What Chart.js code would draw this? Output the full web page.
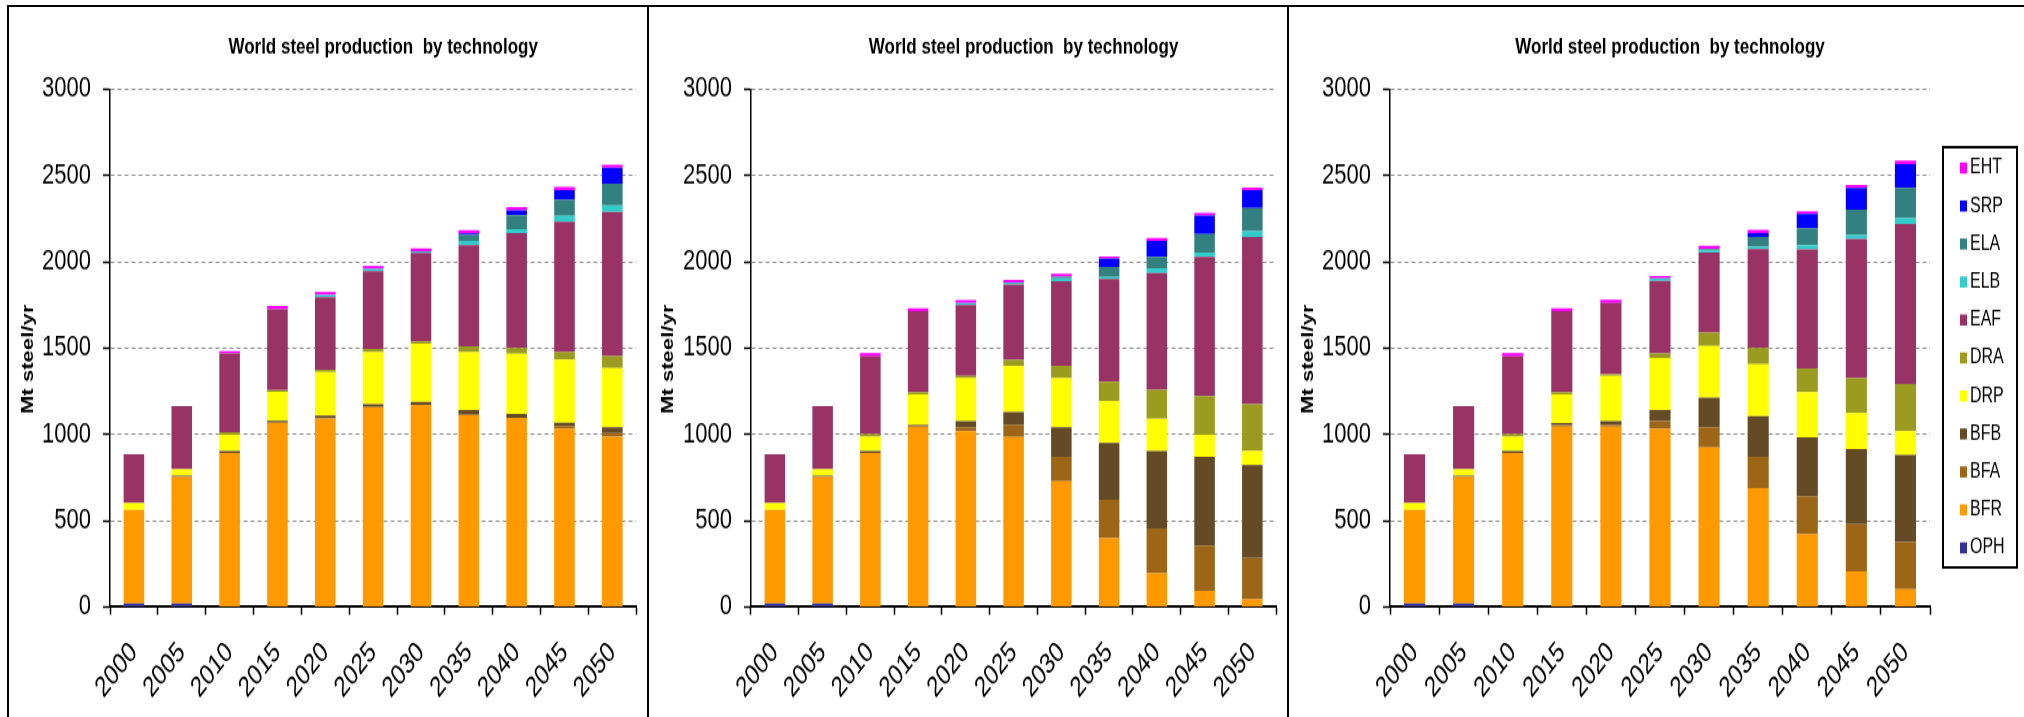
<!DOCTYPE html>
<html>
<head>
<meta charset="utf-8">
<title>World steel production by technology</title>
<script src="https://cdn.jsdelivr.net/npm/chart.js@4.4.1/dist/chart.umd.min.js"></script>
<style>
  html, body { margin: 0; padding: 0; background: #fff; }
  body { position: relative; width: 2024px; height: 717px; overflow: hidden; }
  canvas { position: absolute; top: 8px; height: 709px; }
  .rule { position: absolute; background: #000; z-index: 2; }
</style>
</head>
<body>
<canvas id="panelA" width="638" height="545" style="left:9px; width:638px; height:709px"></canvas>
<canvas id="panelB" width="638" height="545" style="left:649px; width:638px; height:709px"></canvas>
<canvas id="panelC" width="735" height="545" style="left:1289px; width:735px; height:709px"></canvas>
<div class="rule" style="left:7px; top:5px; width:2017px; height:2px"></div>
<div class="rule" style="left:7px; top:5px; width:2px; height:712px"></div>
<div class="rule" style="left:647px; top:5px; width:2px; height:712px"></div>
<div class="rule" style="left:1287px; top:5px; width:2px; height:712px"></div>
<script>
const chartTitle = "World steel production  by technology";
const yTitle = "Mt steel/yr";
const years = ["2000", "2005", "2010", "2015", "2020", "2025", "2030", "2035", "2040", "2045", "2050"];
const yTicks = [0, 500, 1000, 1500, 2000, 2500, 3000];
const techs = ["OPH", "BFR", "BFA", "BFB", "DRP", "DRA", "EAF", "ELB", "ELA", "SRP", "EHT"];
const techColors = ["#333399", "#ff9900", "#9c6616", "#654a26", "#ffff00", "#9b9b1f", "#993366", "#33cccc", "#338080", "#0000ff", "#ff00ff"];

// left panel
const ophA = [20, 20, 0, 0, 0, 0, 0, 0, 0, 0, 0];
const bfrA = [542, 733, 893, 1068, 1092, 1158, 1172, 1113, 1095, 1034, 986];
const bfaA = [0, 0, 0, 0, 0, 0, 0, 0, 0, 15, 21];
const bfbA = [0, 8, 10, 10, 16, 16, 16, 27, 24, 19, 34];
const drpA = [40, 37, 94, 168, 254, 302, 337, 336, 347, 364, 343];
const draA = [0, 0, 16, 10, 13, 19, 13, 34, 34, 45, 69];
const eafA = [283, 366, 455, 469, 419, 450, 512, 586, 665, 755, 835];
const elbA = [0, 0, 0, 0, 13, 13, 10, 24, 24, 34, 37];
const elaA = [0, 0, 0, 0, 0, 0, 0, 34, 80, 93, 127];
const srpA = [0, 0, 0, 0, 0, 0, 0, 10, 29, 56, 93];
const ehtA = [0, 0, 13, 19, 18, 18, 18, 19, 19, 19, 16];

// middle panel
const ophB = [20, 20, 0, 0, 0, 0, 0, 0, 0, 0, 0];
const bfrB = [542, 733, 893, 1044, 1018, 984, 729, 398, 196, 93, 45];
const bfaB = [0, 0, 0, 0, 24, 72, 140, 223, 260, 260, 239];
const bfbB = [0, 8, 11, 11, 34, 74, 172, 329, 448, 517, 538];
const drpB = [40, 37, 82, 177, 249, 267, 284, 244, 186, 127, 82];
const draB = [0, 0, 16, 13, 13, 34, 72, 111, 167, 225, 270];
const eafB = [283, 366, 450, 469, 411, 437, 490, 596, 678, 806, 970];
const elbB = [0, 0, 0, 0, 11, 11, 16, 11, 27, 24, 34];
const elaB = [0, 0, 0, 0, 0, 0, 11, 58, 66, 109, 133];
const srpB = [0, 0, 0, 0, 0, 0, 0, 48, 93, 106, 103];
const ehtB = [0, 0, 19, 16, 18, 16, 16, 13, 16, 16, 16];

// right panel
const ophC = [20, 20, 0, 0, 0, 0, 0, 0, 0, 0, 0];
const bfrC = [542, 733, 893, 1044, 1044, 1031, 925, 689, 421, 207, 103];
const bfaC = [0, 0, 0, 10, 13, 45, 117, 180, 220, 273, 273];
const bfbC = [0, 8, 11, 11, 19, 64, 170, 236, 342, 435, 504];
const drpC = [40, 37, 82, 167, 262, 302, 300, 302, 262, 209, 138];
const draC = [0, 0, 16, 13, 11, 27, 77, 93, 138, 201, 273];
const eafC = [283, 366, 450, 469, 411, 419, 464, 573, 689, 806, 928];
const elbC = [0, 0, 0, 0, 0, 16, 13, 13, 24, 24, 34];
const elaC = [0, 0, 0, 0, 0, 0, 8, 58, 98, 146, 175];
const srpC = [0, 0, 0, 0, 0, 0, 0, 21, 82, 127, 138];
const ehtC = [0, 0, 19, 16, 19, 13, 19, 19, 16, 16, 19];

const FONT = "'Liberation Sans', Arial, sans-serif";
Chart.defaults.font.family = FONT;
Chart.defaults.color = "#000";

// chart title and y axis title
const panelText = {
  id: "panelText",
  afterDraw(chart) {
    const { ctx, chartArea } = chart;
    ctx.save();
    ctx.fillStyle = "#000";
    ctx.font = "bold 17px " + FONT;
    ctx.textAlign = "center";
    ctx.textBaseline = "middle";
    ctx.fillText(chartTitle, (chartArea.left + chartArea.right) / 2 + 10, 30.5);
    ctx.translate(19, 270);
    ctx.rotate(-Math.PI / 2);
    ctx.fillText(yTitle, 0, 0);
    ctx.restore();
  },
};

// boxed legend, top entry first
const techLegend = {
  id: "techLegend",
  afterDraw(chart) {
    const { ctx, chartArea } = chart;
    const left = chartArea.right + 13;
    ctx.save();
    ctx.lineWidth = 2;
    ctx.strokeStyle = "#000";
    ctx.strokeRect(left, 107, 74, 323);
    ctx.font = "16px " + FONT;
    ctx.textBaseline = "middle";
    chart.data.datasets
      .slice()
      .reverse()
      .forEach((ds, i) => {
        const y = 123 + i * 29.2;
        ctx.fillStyle = ds.backgroundColor;
        ctx.fillRect(left + 17, y - 4.25, 7, 8.5);
        ctx.fillStyle = "#000";
        ctx.fillText(ds.label, left + 27, y);
      });
    ctx.restore();
  },
};

function makeDatasets(rows) {
  return rows.map((data, i) => ({
    label: techs[i],
    data: data,
    backgroundColor: techColors[i],
    barPercentage: 0.43,
    categoryPercentage: 1,
  }));
}

function drawPanel(id, rows, yWidth, withLegend) {
  const plugins = [panelText];
  if (withLegend) plugins.push(techLegend);

  new Chart(document.getElementById(id), {
    type: "bar",
    data: { labels: years, datasets: makeDatasets(rows) },
    options: {
      responsive: false,
      animation: false,
      devicePixelRatio: 1,
      layout: { padding: { top: 62.3, right: withLegend ? 94 : 0, left: 0, bottom: 0 } },
      plugins: {
        legend: { display: false },
        tooltip: { enabled: false },
      },
      scales: {
        x: {
          stacked: true,
          afterFit: (s) => { s.height = 84.6; },
          grid: {
            display: true,
            drawOnChartArea: false,
            tickLength: 6,
            tickColor: "#000",
            tickWidth: 1.5,
          },
          border: { color: "#000", width: 2 },
          ticks: {
            autoSkip: false,
            minRotation: 45,
            maxRotation: 45,
            padding: 16,
            font: { size: 22 },
          },
        },
        y: {
          stacked: true,
          min: 0,
          max: 3000,
          afterFit: (s) => { s.width = yWidth; },
          afterBuildTicks: (s) => { s.ticks = yTicks.map((v) => ({ value: v })); },
          grid: {
            color: "#8c8c8c",
            lineWidth: 1,
            tickLength: 7,
            tickColor: "#000",
            tickWidth: 1.5,
            tickBorderDash: [],
          },
          border: { color: "#000", width: 1.5, dash: [4, 3] },
          ticks: {
            padding: 12,
            font: { size: 22 },
            callback: (v) => String(v),
          },
        },
      },
    },
    plugins: plugins,
  });
}

drawPanel("panelA", [ophA, bfrA, bfaA, bfbA, drpA, draA, eafA, elbA, elaA, srpA, ehtA], 101, false);
drawPanel("panelB", [ophB, bfrB, bfaB, bfbB, drpB, draB, eafB, elbB, elaB, srpB, ehtB], 102, false);
drawPanel("panelC", [ophC, bfrC, bfaC, bfbC, drpC, draC, eafC, elbC, elaC, srpC, ehtC], 101, true);
</script>
</body>
</html>
